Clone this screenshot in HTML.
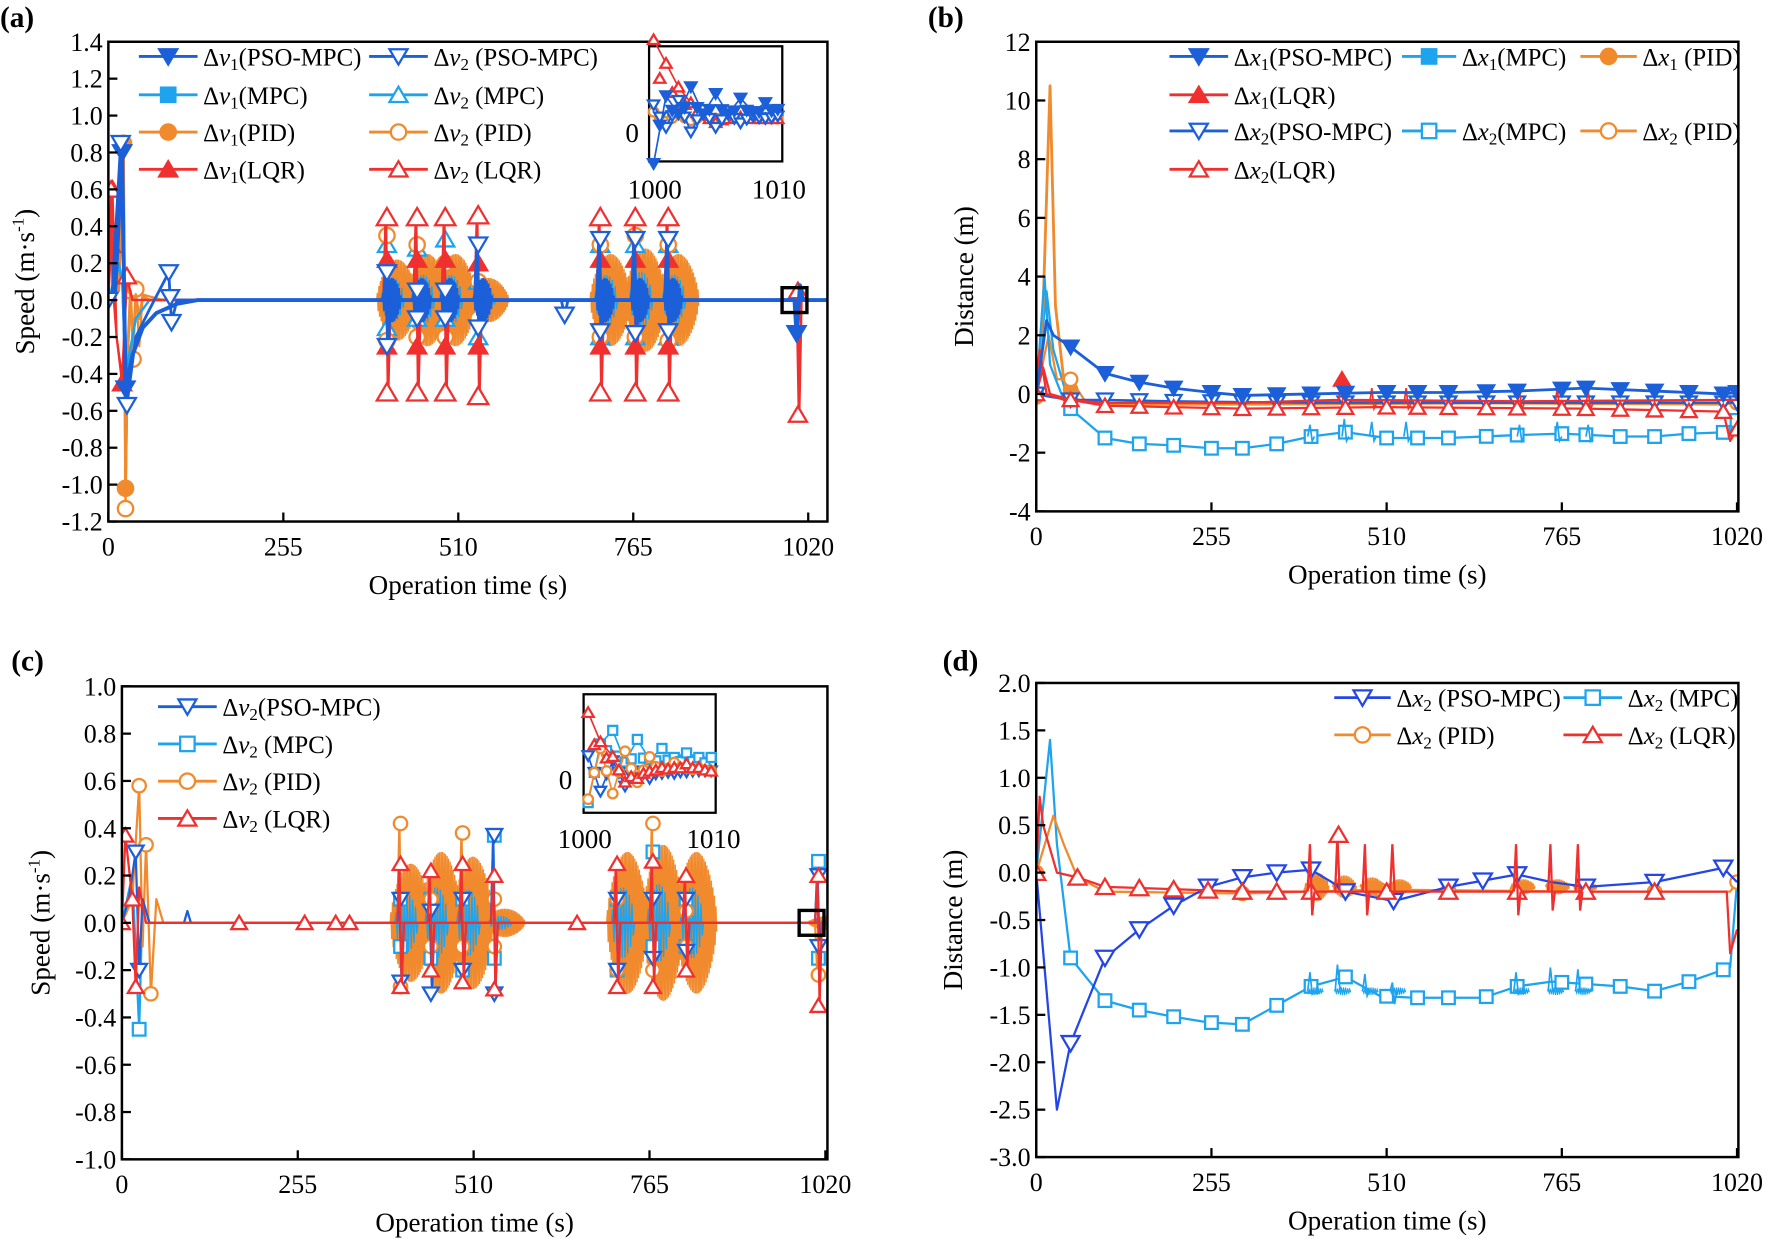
<!DOCTYPE html>
<html><head><meta charset="utf-8">
<style>
html,body{margin:0;padding:0;background:#fff;}
svg{display:block;font-family:"Liberation Serif",serif;}
</style></head>
<body>
<svg id="fig" width="1770" height="1244" viewBox="0 0 1568 1102" preserveAspectRatio="none" xmlns="http://www.w3.org/2000/svg"></svg>
<script>
// ===== Colours =====
const C_PSO='#1b5fd9', C_MPC='#1ea4ef', C_PID='#f08a2c', C_LQR='#f0302e', C_PSOD='#2446e6';

// ===== Panel (a) data: speed Δv1 / Δv2 =====
const aPso1T=[0,10,20,25,35,50,70,100,130,1000,1003,1008,1012,1048];
const aPso1V=[0,0.05,0.8,-0.48,-0.3,-0.15,-0.07,-0.02,0,0,-0.18,0.08,0,0];
const aPso1Mk=[20,25,1003];
const aPso2T=[0,5,18,27,40,60,88,92,100,130,660,665,670,1048];
const aPso2V=[0,0,0.85,-0.57,-0.2,-0.05,0.15,-0.12,0,0,0,-0.08,0,0];
const aPso2Mk=[0,18,27,88,90,92,665];
const aPidT=[0,15,22,25,28,32,36,40,45,50,60,80,100,1048];
const aPid1V=[0,0.05,0.85,-1.02,-0.3,0.05,-0.25,0.03,-0.1,0.02,0,0,0,0];
const aPid2V=[0,0.05,0.6,-1.13,-0.35,0.05,-0.32,0.06,-0.25,0.03,0.02,0,0,0];
const aPid1Mk=[22,25];
const aPid2Mk=[25,32,36,40];
const aLqrT=[0,4,6,12,20,27,35,45,1048];
const aLqr1V=[0,0.3,0.6,-0.2,-0.45,0.12,0,0,0];
const aLqr2V=[0,0.6,0.1,-0.2,-0.42,0.13,0,0,0];
const aMpcT=[0,15,20,25,40,60,100,1048];
const aMpc1V=[0,0.2,0.12,-0.45,-0.1,0,0,0];
const aMpc2V=[0,0.18,0.1,-0.4,-0.1,0,0,0];
const aSpikeT=[406,450,491,539,717,768,816];
const aLqr2Hi=[0.45,0.45,0.45,0.46,0.45,0.45,0.45];
const aLqr2Lo=[-0.5,-0.5,-0.5,-0.52,-0.5,-0.5,-0.5];
const aLqr1Hi=[0.22,0.22,0.22,0.2,0.22,0.22,0.22];
const aLqr1Lo=[-0.25,-0.25,-0.25,-0.25,-0.25,-0.25,-0.25];
const aPso2Hi=[0.15,0.05,0.05,0.3,0.33,0.33,0.33];
const aPso2Lo=[-0.25,-0.1,-0.1,-0.15,-0.17,-0.18,-0.17];
const aMpc2Hi=[0.3,0.28,0.33,0.1,0.3,0.3,0.3];
const aMpc2Lo=[-0.15,-0.1,-0.1,-0.2,-0.2,-0.2,-0.2];
const aPid2Hi=[0.35,0.3,0.2,0.1,0.3,0.35,0.3];
const aPid2Lo=[-0.22,-0.2,-0.2,-0.1,-0.2,-0.2,-0.22];
const aBurstA=[0.22,0.25,0.25,0.12,0.25,0.28,0.25];
const aLqrEndT=[1005];
const aLqrEndHi=[0.05];
const aLqrEndLo=[-0.62];

// ===== Panel (b) data: distance Δx1 / Δx2 =====
const bMk=[0,50,100,150,200,255,300,350,400,450,510,555,600,655,700,765,800,850,900,950,1000,1020];
const bPso1T=[0,15,25,50,100,150,200,255,300,400,500,600,700,800,900,1000,1020];
const bPso1V=[0,2.5,2.0,1.6,0.7,0.4,0.2,0.05,-0.05,0,0.05,0.05,0.1,0.2,0.1,0,0.05];
const bMpc1T=[0,12,20,40,100,300,500,800,1020];
const bMpc1V=[0,4,1,-0.2,-0.3,-0.3,-0.25,-0.3,-0.3];
const bPid1T=[0,10,20,28,40,60,100,300,600,1000,1020];
const bPid1V=[-0.1,3,10.5,3,0.5,-0.2,-0.35,-0.35,-0.3,-0.35,-0.3];
const bLqr1T=[0,5,15,40,100,300,440,445,450,700,1020];
const bLqr1V=[0,1.5,0,-0.2,-0.3,-0.3,-0.2,0.5,-0.2,-0.25,-0.2];
const bPso2T=[0,20,50,100,200,400,700,1020];
const bPso2V=[0,-0.1,-0.2,-0.2,-0.25,-0.3,-0.3,-0.3];
const bMpc2T=[0,15,25,50,100,150,200,255,300,350,400,450,510,600,700,765,850,900,950,1010,1020];
const bMpc2V=[0,3.5,1.5,-0.5,-1.5,-1.7,-1.75,-1.85,-1.85,-1.7,-1.45,-1.3,-1.5,-1.5,-1.4,-1.35,-1.45,-1.45,-1.35,-1.3,-0.9];
const bPid2T=[0,18,30,50,70,100,400,800,1020];
const bPid2V=[0,2,0.5,0.5,-0.2,-0.3,-0.35,-0.3,-0.3];
const bLqr2T=[0,10,20,50,100,300,500,800,1000,1010,1020];
const bLqr2V=[0,0.9,0,-0.2,-0.4,-0.5,-0.45,-0.5,-0.6,-1.6,-1.2];
const bSpikeT=[400,450,490,540,705,760,805];
const bSpikeA=[0.4,0.6,0.5,0.5,0.4,0.5,0.4];

// ===== Panel (c) data: speed Δv2 =====
const cPsoT=[0,10,20,25,30,40,90,95,100,1028];
const cPsoV=[0,0.1,0.3,-0.2,0.1,0,0,0.05,0,0];
const cMpcT=[0,15,25,30,40,1028];
const cMpcV=[0,0.2,-0.45,0.1,0,0];
const cPidT=[0,15,25,30,35,42,50,60,1028];
const cPidV=[0,0.1,0.58,-0.1,0.33,-0.3,0.1,0,0];
const cLqrT=[0,5,15,20,25,35,1028];
const cLqrV=[0,0.37,0.1,-0.27,0.15,0,0];
const cPsoMk=[20,25];
const cMpcMk=[25];
const cPidMk=[25,35,42];
const cLqrMk=[0,5,15,20,170,265,310,330,660];
const cSpikeT=[404,448,494,540,718,770,818,1010];
const cLqrHi=[0.25,0.22,0.25,0.2,0.25,0.26,0.2,0.2];
const cLqrLo=[-0.27,-0.2,-0.25,-0.28,-0.27,-0.27,-0.2,-0.35];
const cPsoHi=[0.1,0.05,0.1,0.37,0.1,0.1,0.1,0.2];
const cPsoLo=[-0.25,-0.3,-0.2,-0.3,-0.2,-0.15,-0.12,-0.1];
const cMpcHi=[0.1,0.1,0.1,0.37,0.1,0.3,0.1,0.26];
const cMpcLo=[-0.1,-0.15,-0.2,-0.15,-0.2,-0.1,-0.1,-0.15];
const cPidHi=[0.42,0.1,0.38,0.1,0.1,0.42,0.05,-0.22];
const cPidLo=[-0.27,-0.1,-0.1,-0.1,-0.2,-0.2,-0.1,-0.22];
const cBurstA=[0.25,0.3,0.28,0.06,0.3,0.33,0.3,0.03];

// ===== Panel (d) data: distance Δx2 =====
const dMk=[0,50,100,150,200,255,300,350,400,450,510,555,600,655,700,765,800,850,900,950,1000,1020];
const dPsoT=[0,30,50,100,150,200,250,300,350,400,430,450,520,600,700,750,800,900,1000,1020];
const dPsoV=[0,-2.5,-1.8,-0.9,-0.6,-0.35,-0.15,-0.05,0,0.03,-0.1,-0.2,-0.3,-0.15,-0.02,-0.1,-0.15,-0.1,0.05,-0.1];
const dMpcT=[0,20,30,50,100,150,200,250,300,350,400,450,500,550,650,700,750,850,900,950,1010,1020];
const dMpcV=[0,1.4,0.3,-0.9,-1.35,-1.45,-1.52,-1.58,-1.6,-1.4,-1.2,-1.1,-1.3,-1.32,-1.32,-1.2,-1.15,-1.2,-1.25,-1.15,-1.0,-0.1];
const dPidT=[0,25,40,60,100,300,500,800,1010,1020];
const dPidV=[0,0.6,0.3,-0.05,-0.2,-0.22,-0.18,-0.2,-0.2,-0.1];
const dLqrT=[0,5,10,30,60,100,300,500,800,1005,1010,1020];
const dLqrV=[0,0.8,0.5,0,-0.05,-0.15,-0.2,-0.2,-0.2,-0.2,-0.85,-0.6];
const dSpikeT=[400,440,480,520,700,750,790];
const dSpikeHi=[0.3,0.4,0.3,0.3,0.3,0.3,0.3];
const dSpikeLo=[-0.45,-0.2,-0.45,-0.2,-0.45,-0.4,-0.4];
const dPidBurstA=[0.15,0.12,0.1,0.08,0.08,0.08,0.06];

// ===== Inset data (arbitrary units) =====
const insA_lqr=[1.0,0.7,0.4,0.2,0.05,-0.05,0,0.02,0,0,0];
const insA_pso1=[-1.0,0.5,0.1,0.7,0.1,0.55,0.1,0.45,0.15,0.35,0.2];
const insA_pso2=[0.3,-0.2,0.4,-0.3,0.2,-0.2,0.1,-0.1,0.05,0.0,0.05];
const insA_pid=[0.2,-0.1,0.15,-0.05,0.1,0,0.05,0,0.02,0,0];
const insC_mpc=[-0.7,0.6,0.9,0.2,0.7,0.25,0.5,0.3,0.4,0.3,0.3];
const insC_pid=[-0.5,0.4,-0.4,0.35,-0.2,0.25,0,0.15,0.05,0.05,0];
const insC_lqr=[0.8,0.4,0.2,-0.15,-0.1,0,0.05,0.05,0.1,0.05,0];
const insC_pso=[0.3,-0.4,0.2,-0.3,0,-0.15,-0.05,-0.05,-0.02,0,0];

// ===== helpers =====
const NS='http://www.w3.org/2000/svg';
const svg=document.getElementById('fig');
function mk(tag,attrs,parent){const e=document.createElementNS(NS,tag);for(const k in attrs)e.setAttribute(k,attrs[k]);(parent||svg).appendChild(e);return e;}
function txt(s,x,y,size,anchor,parent,extra){const e=mk('text',Object.assign({x:x,y:y,'font-size':size,'text-anchor':anchor||'start',fill:'#000'},extra||{}),parent);e.textContent=s;return e;}
function interp(T,V,t){if(t<=T[0])return V[0];for(let i=1;i<T.length;i++){if(t<=T[i]){const f=(t-T[i-1])/(T[i]-T[i-1]);return V[i-1]+f*(V[i]-V[i-1]);}}return V[V.length-1];}
function marker(g,type,x,y,col,r){
  r=r||7;const filled=type.endsWith('F');const base=type.replace('F','');
  const a={fill:filled?col:'#fff',stroke:col,'stroke-width':2};
  let e;
  if(base==='down')e=mk('polygon',Object.assign({points:`${x-r},${y-r*0.8} ${x+r},${y-r*0.8} ${x},${y+r*0.9}`},a),g);
  else if(base==='up')e=mk('polygon',Object.assign({points:`${x-r},${y+r*0.8} ${x+r},${y+r*0.8} ${x},${y-r*0.9}`},a),g);
  else if(base==='sq')e=mk('rect',Object.assign({x:x-r*0.8,y:y-r*0.8,width:r*1.6,height:r*1.6},a),g);
  else e=mk('circle',Object.assign({cx:x,cy:y,r:r*0.85},a),g);
  
  
  return e;
}
function panel(p){
  const g=mk('g',{});
  
  
  p.sx=v=>p.x0+(v-p.xmin)/(p.xmax-p.xmin)*(p.x1-p.x0);
  p.sy=v=>p.y1-(v-p.ymin)/(p.ymax-p.ymin)*(p.y1-p.y0);
  p.g=g;
  const clip='clip'+p.name;
  const cp=mk('clipPath',{id:clip},g);mk('rect',{x:p.x0,y:p.y0,width:p.x1-p.x0,height:p.y1-p.y0},cp);
  p.plot=mk('g',{'clip-path':`url(#${clip})`},g);
  
  
  return p;
}
function axes(p,yticks,ydec,xticks,xlab,ylab,letter,lx,ly){
  const g=p.g;
  const f=mk('rect',{x:p.x0,y:p.y0,width:p.x1-p.x0,height:p.y1-p.y0,fill:'none',stroke:'#000','stroke-width':2.2},g);
  
  yticks.forEach(v=>{const y=p.sy(v);mk('line',{x1:p.x0,x2:p.x0+8,y1:y,y2:y,stroke:'#000','stroke-width':2},g);
    const t=txt(v.toFixed(ydec),p.x0-5,y+8,23,'end',g);});
  xticks.forEach(v=>{const x=p.sx(v);mk('line',{x1:x,x2:x,y1:p.y1,y2:p.y1-8,stroke:'#000','stroke-width':2},g);
    const t=txt(String(v),x,p.y1+30,23,'middle',g);});
  const xl=txt('Operation time (s)',(p.x0+p.x1)/2,p.y1+64,24,'middle',g);
  const yl=mk('text',{x:0,y:0,'font-size':24,'text-anchor':'middle',transform:`translate(${ylab[1]},${(p.y0+p.y1)/2}) rotate(-90)`},g);
  
  yl.innerHTML=ylab[0];
  const L=txt(letter,lx,ly,26,'start',g,{'font-weight':'bold'});
}
function line(p,T,V,col,w,mkT,mtype,r){
  const d=T.map((t,i)=>(i?'L':'M')+p.sx(t).toFixed(1)+','+p.sy(V[i]).toFixed(1)).join('');
  const e=mk('path',{d:d,fill:'none',stroke:col,'stroke-width':w||2,'stroke-linejoin':'round'},p.plot);
  
  (mkT||[]).forEach(t=>marker(p.plot,mtype,p.sx(t),p.sy(interp(T,V,t)),col,r));
}
function spikes(p,T,HI,LO,col,w,mtype,r,base){
  base=base||0;
  T.forEach((t,i)=>{const x=p.sx(t);
    const e=mk('path',{d:`M${x-3},${p.sy(base)}L${x-1},${p.sy(HI[i])}L${x+1},${p.sy(LO[i])}L${x+3},${p.sy(base)}`,fill:'none',stroke:col,'stroke-width':w||2},p.plot);
    
    if(mtype){marker(p.plot,mtype,x,p.sy(HI[i]),col,r);marker(p.plot,mtype,x,p.sy(LO[i]),col,r);}
  });
}
// oscillation clusters around each spike time (rounded envelope)
function clusters(p,T,A,dur,col,step,w,base){
  base=base||0;
  T.forEach((s,i)=>{let d='';let k=0;const s0=s-dur*0.25;
    for(let t=s0;t<=s0+dur;t+=step){const f=(t-s0)/dur;const env=Math.pow(Math.sin(Math.PI*f),0.6);const a=base+A[i]*env*(k%2?1:-1);d+=(k?'L':'M')+p.sx(t).toFixed(1)+','+p.sy(a).toFixed(1);k++;}
    const e=mk('path',{d:d,fill:'none',stroke:col,'stroke-width':w||1},p.plot);
    });
}
function legend(x,y,col,mtype,html,w){
  const g=mk('g',{});
  
  
  w=w||52;
  mk('line',{x1:x,x2:x+w,y1:y,y2:y,stroke:col,'stroke-width':2.5},g);
  marker(g,mtype,x+w/2,y,col,8);
  const t=mk('text',{x:x+w+5,y:y+8,'font-size':22},g);t.innerHTML=html;
}
const dv=(n,lab)=>`Δ<tspan font-style="italic">v</tspan><tspan font-size="15" dy="4">${n}</tspan><tspan dy="-4">${lab}</tspan>`;
const dx=(n,lab)=>`Δ<tspan font-style="italic">x</tspan><tspan font-size="15" dy="4">${n}</tspan><tspan dy="-4">${lab}</tspan>`;
function inset(bx,by,bw,bh,series,zeroY,lab0x,lab0y,l1x,l2x,ly){
  const g=mk('g',{});
  
  mk('rect',{x:bx,y:by,width:bw,height:bh,fill:'#fff',stroke:'#000','stroke-width':2},g);
  series.forEach(s=>{
    const n=s.v.length;let d='';
    s.v.forEach((v,i)=>{const x=bx+4+i*(bw-8)/(n-1);const y=zeroY-v*s.sc;d+=(i?'L':'M')+x.toFixed(1)+','+y.toFixed(1);});
    mk('path',{d:d,fill:'none',stroke:s.c,'stroke-width':1.5},g);
    s.v.forEach((v,i)=>{const x=bx+4+i*(bw-8)/(n-1);marker(g,s.m,x,zeroY-v*s.sc,s.c,5);
      if(i<n-1){const x2=x+(bw-8)/(n-1)/2;const v2=(v+s.v[i+1])/2*0.6;marker(g,s.m,x2,zeroY-v2*s.sc,s.c,5);}});
  });
  txt('0',lab0x,lab0y,24,'middle',g);txt('1000',l1x,ly,24,'middle',g);txt('1010',l2x,ly,24,'middle',g);
}

// ===== Panel A =====
const A=panel({name:'panel-a-speed',x0:96,x1:733,y0:37,y1:462,xmin:0,xmax:1048,ymin:-1.2,ymax:1.4});
clusters(A,aSpikeT,aBurstA,60,C_PID,1.1,1.2);
clusters(A,aSpikeT,aBurstA.map(a=>a*0.55),34,C_MPC,2,1.2);
line(A,aPidT,aPid2V,C_PID,2,aPid2Mk,'circ',8);
line(A,aPidT,aPid1V,C_PID,2.5,aPid1Mk,'circF',8);
line(A,aMpcT,aMpc1V,C_MPC,2,[],'sqF');
line(A,aMpcT,aMpc2V,C_MPC,2,[],'up');
spikes(A,aSpikeT,aMpc2Hi,aMpc2Lo,C_MPC,2,'up',8);
spikes(A,aSpikeT,aPid2Hi,aPid2Lo,C_PID,2,'circ',8);
line(A,aLqrT,aLqr1V,C_LQR,2,[4,6,20],'upF',8);
line(A,aLqrT,aLqr2V,C_LQR,2,[4,27],'up',8);
spikes(A,aSpikeT,aLqr1Hi,aLqr1Lo,C_LQR,2,'upF',8);
spikes(A,aSpikeT,aLqr2Hi,aLqr2Lo,C_LQR,2.5,'up',9);
spikes(A,aLqrEndT,aLqrEndHi,aLqrEndLo,C_LQR,2.5,'up',8);
clusters(A,aSpikeT,aSpikeT.map(()=>0.12),28,C_PSO,1.3,1.6);
line(A,aPso1T,aPso1V,C_PSO,3.5,aPso1Mk,'downF',8);
line(A,aPso2T,aPso2V,C_PSO,2.5,aPso2Mk,'down',8);
spikes(A,aSpikeT,aPso2Hi,aPso2Lo,C_PSO,3,'down',8);
mk('rect',{x:A.sx(1000)-11,y:A.sy(0)-11,width:22,height:22,fill:'none',stroke:'#000','stroke-width':3},A.g);
axes(A,[-1.2,-1.0,-0.8,-0.6,-0.4,-0.2,0,0.2,0.4,0.6,0.8,1.0,1.2,1.4],1,[0,255,510,765,1020],'',['Speed (m·s<tspan dy="-9" font-size="15">-1</tspan><tspan dy="9">)</tspan>',30],'(a)',0,24);
legend(123,50,C_PSO,'downF',dv(1,'(PSO-MPC)'));
legend(123,84,C_MPC,'sqF',dv(1,'(MPC)'));
legend(123,117,C_PID,'circF',dv(1,'(PID)'));
legend(123,150,C_LQR,'upF',dv(1,'(LQR)'));
legend(327,50,C_PSO,'down',dv(2,' (PSO-MPC)'));
legend(327,84,C_MPC,'up',dv(2,' (MPC)'));
legend(327,117,C_PID,'circ',dv(2,' (PID)'));
legend(327,150,C_LQR,'up',dv(2,' (LQR)'));
inset(575,41,118,102,[{v:insA_pid,c:C_PID,m:'circ',sc:30},{v:insA_lqr,c:C_LQR,m:'up',sc:70},{v:insA_pso2,c:C_PSO,m:'down',sc:40},{v:insA_pso1,c:C_PSO,m:'downF',sc:40}],105,560,126,580,690,176);

// ===== Panel B =====
const B=panel({name:'panel-b-distance',x0:918,x1:1540,y0:37,y1:453,xmin:0,xmax:1022,ymin:-4,ymax:12});
line(B,bMpc2T,bMpc2V,C_MPC,2,bMk.filter(t=>t>=50),'sq',7);
spikes(B,bSpikeT,bSpikeA.map(a=>-1.45+a),bSpikeA.map(()=>-1.6),C_MPC,1.5,null,0,-1.45);
line(B,bPid1T,bPid1V,C_PID,2.5,[0,50],'circF',7);
line(B,bPid2T,bPid2V,C_PID,2,[0,50,1020],'circ',7);
line(B,bMpc1T,bMpc1V,C_MPC,2,[0],'sqF',7);
line(B,bPso2T,bPso2V,C_PSO,2,bMk,'down',7);
line(B,bLqr1T,bLqr1V,C_LQR,2,[445],'upF',7);
spikes(B,bSpikeT,bSpikeA.map(a=>-0.3+a),bSpikeA.map(()=>-0.5),C_LQR,1.5,null,0,-0.35);
line(B,bLqr2T,bLqr2V,C_LQR,2,bMk,'up',7);
line(B,bPso1T,bPso1V,C_PSO,2.5,bMk.filter(t=>t>=50),'downF',7);
axes(B,[-4,-2,0,2,4,6,8,10,12],0,[0,255,510,765,1020],'',['Distance (m)',862],'(b)',822,24);
legend(1036,50,C_PSO,'downF',dx(1,'(PSO-MPC)'));
legend(1242,50,C_MPC,'sqF',dx(1,'(MPC)'),48);
legend(1400,50,C_PID,'circF',dx(1,' (PID)'),50);
legend(1036,84,C_LQR,'upF',dx(1,'(LQR)'));
legend(1036,116,C_PSO,'down',dx(2,'(PSO-MPC)'));
legend(1242,116,C_MPC,'sq',dx(2,'(MPC)'),48);
legend(1400,116,C_PID,'circ',dx(2,' (PID)'),50);
legend(1036,150,C_LQR,'up',dx(2,'(LQR)'));

// ===== Panel C =====
const Cp=panel({name:'panel-c-speed',x0:108,x1:733,y0:608,y1:1027,xmin:0,xmax:1023,ymin:-1,ymax:1});
clusters(Cp,cSpikeT,cBurstA,60,C_PID,1.1,1.2);
clusters(Cp,cSpikeT,cBurstA.map(a=>a*0.5),34,C_MPC,2,1.2);
line(Cp,cMpcT,cMpcV,C_MPC,2,cMpcMk,'sq',7);
spikes(Cp,cSpikeT,cMpcHi,cMpcLo,C_MPC,2,'sq',7);
line(Cp,cPidT,cPidV,C_PID,2,cPidMk,'circ',7);
spikes(Cp,cSpikeT,cPidHi,cPidLo,C_PID,2,'circ',7);
line(Cp,cPsoT,cPsoV,C_PSO,2,cPsoMk,'down',7);
spikes(Cp,cSpikeT,cPsoHi,cPsoLo,C_PSO,2,'down',7);
line(Cp,cLqrT,cLqrV,C_LQR,2,cLqrMk,'up',7);
spikes(Cp,cSpikeT,cLqrHi,cLqrLo,C_LQR,2,'up',7);
mk('rect',{x:Cp.sx(1000)-11,y:Cp.sy(0)-11,width:22,height:22,fill:'none',stroke:'#000','stroke-width':3},Cp.g);
axes(Cp,[-1,-0.8,-0.6,-0.4,-0.2,0,0.2,0.4,0.6,0.8,1.0],1,[0,255,510,765,1020],'',['Speed (m·s<tspan dy="-9" font-size="15">-1</tspan><tspan dy="9">)</tspan>',44],'(c)',10,594);
legend(140,626,C_PSO,'down',dv(2,'(PSO-MPC)'));
legend(140,659,C_MPC,'sq',dv(2,' (MPC)'));
legend(140,692,C_PID,'circ',dv(2,' (PID)'));
legend(140,725,C_LQR,'up',dv(2,' (LQR)'));
inset(517,615,117,105,[{v:insC_mpc,c:C_MPC,m:'sq',sc:40},{v:insC_pso,c:C_PSO,m:'down',sc:45},{v:insC_pid,c:C_PID,m:'circ',sc:50},{v:insC_lqr,c:C_LQR,m:'up',sc:65}],683,501,699,518,632,751);

// ===== Panel D =====
const D=panel({name:'panel-d-distance',x0:918,x1:1540,y0:605,y1:1025,xmin:0,xmax:1022,ymin:-3,ymax:2});
line(D,dMpcT,dMpcV,C_MPC,2,dMk.filter(t=>t>=50&&t<=1000),'sq',7);
spikes(D,dSpikeT,dSpikeT.map(t=>interp(dMpcT,dMpcV,t)+0.15),dSpikeT.map(t=>interp(dMpcT,dMpcV,t)-0.08),C_MPC,1.5,null,0,-1.25);
clusters(D,dSpikeT,dSpikeT.map(()=>0.04),25,C_MPC,1.5,1,-1.25);
line(D,dPidT,dPidV,C_PID,2,[0,200,300,400,500,600,700,800,900,1020],'circ',7);
clusters(D,dSpikeT,dPidBurstA,35,C_PID,1.2,1.2,-0.15);
line(D,dPsoT,dPsoV,C_PSOD,2,[50,100,150,200,250,300,350,400,450,520,600,650,700,800,900,1000],'down',8);
line(D,dLqrT,dLqrV,C_LQR,2,[0,60,100,150,200,250,300,350,400,510,600,700,800,900],'up',8);
spikes(D,dSpikeT,dSpikeHi,dSpikeLo,C_LQR,2,null,0,-0.2);
marker(D.plot,'up',D.sx(440),D.sy(0.4),C_LQR,8);
axes(D,[-3,-2.5,-2,-1.5,-1,-0.5,0,0.5,1,1.5,2],1,[0,255,510,765,1020],'',['Distance (m)',852],'(d)',835,594);
legend(1182,618,C_PSOD,'down',dx(2,' (PSO-MPC)'),50);
legend(1385,618,C_MPC,'sq',dx(2,' (MPC)'),52);
legend(1182,651,C_PID,'circ',dx(2,' (PID)'),50);
legend(1385,651,C_LQR,'up',dx(2,' (LQR)'),52);
</script>
</body></html>
